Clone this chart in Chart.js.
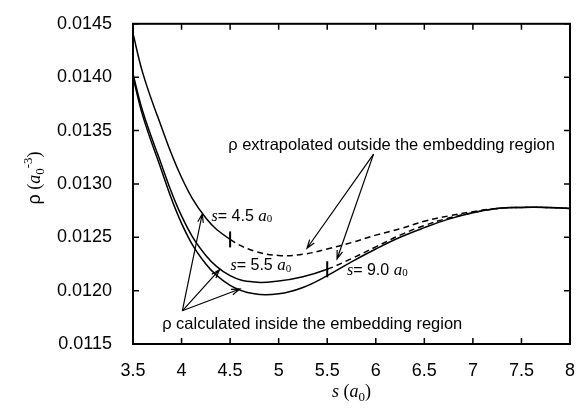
<!DOCTYPE html>
<html>
<head>
<meta charset="utf-8">
<script src="https://cdn.jsdelivr.net/npm/chart.js@4.4.0/dist/chart.umd.min.js"></script>
<style>
  body { margin: 0; background: #fff; }
  #wrap { width: 584px; height: 413px; }
</style>
</head>
<body>
<div id="wrap"><canvas id="chart-rho" width="584" height="413"></canvas></div>
<script>
// s (a0) sample points
const sGrid = [3.5, 3.6, 3.75, 4.0, 4.25, 4.5, 4.75, 5.0, 5.25, 5.5, 5.75, 6.0, 6.25, 6.5, 6.75, 7.0, 7.25, 7.5, 7.75, 8.0];
// rho for the three embedding radii
const rhoS45 = [0.01441, 0.01404, 0.01364, 0.01306, 0.01268, 0.01248, 0.01237, 0.01233, 0.01234, 0.01239, 0.01245, 0.01252, 0.01258, 0.01265, 0.01270, 0.01274, 0.01277, 0.01278, 0.01278, 0.01277];
const rhoS55 = [0.01403, 0.01368, 0.01329, 0.01270, 0.01233, 0.01214, 0.01208, 0.01209, 0.01213, 0.01220, 0.01230, 0.01241, 0.01252, 0.01261, 0.01268, 0.01273, 0.01277, 0.01278, 0.01278, 0.01277];
const rhoS90 = [0.01400, 0.01364, 0.01324, 0.01263, 0.01225, 0.01205, 0.01197, 0.01197, 0.01203, 0.01214, 0.01227, 0.01239, 0.01250, 0.01259, 0.01267, 0.01273, 0.01277, 0.01278, 0.01278, 0.01277];
const regionEnds = [4.5, 5.5, null];

const sTicks = [3.5, 4, 4.5, 5, 5.5, 6, 6.5, 7, 7.5, 8];
const rhoTicks = [0.0115, 0.0120, 0.0125, 0.0130, 0.0135, 0.0140, 0.0145];

function points(ys) {
    return sGrid.map((s, i) => ({ x: s, y: ys[i] }));
}
function dashAfter(limit) {
    return ctx => (limit !== null && ctx.p0.parsed.x >= limit - 1e-9) ? [6, 4] : undefined;
}
function curve(ys, limit) {
    return {
        data: points(ys),
        borderColor: '#000',
        borderWidth: 1.5,
        pointRadius: 0,
        tension: 0.4,
        segment: { borderDash: dashAfter(limit) }
    };
}

const SANS = '"Liberation Sans", Arial, sans-serif';
const SERIF = '"Liberation Serif", "Times New Roman", serif';

function runs(c, x, y, parts) {
    parts.forEach(p => {
        c.font = p.font;
        c.fillText(p.t, x, y + (p.dy || 0));
        x += c.measureText(p.t).width;
    });
}
function runsWidth(c, parts) {
    let w = 0;
    parts.forEach(p => { c.font = p.font; w += c.measureText(p.t).width; });
    return w;
}
function sLabel(value) {
    return [
        { t: 's', font: 'italic 16px ' + SERIF },
        { t: '= ' + value + ' ', font: '16px ' + SANS },
        { t: 'a', font: 'italic 17px ' + SERIF },
        { t: '0', font: '11px ' + SERIF, dy: 3 }
    ];
}
function arrow(c, x0, y0, x1, y1) {
    const ang = Math.atan2(y1 - y0, x1 - x0);
    c.beginPath();
    c.moveTo(x0, y0);
    c.lineTo(x1, y1);
    c.moveTo(x1 - 9 * Math.cos(ang - 0.32), y1 - 9 * Math.sin(ang - 0.32));
    c.lineTo(x1, y1);
    c.lineTo(x1 - 9 * Math.cos(ang + 0.32), y1 - 9 * Math.sin(ang + 0.32));
    c.stroke();
}

// annotation anchors in data units (s, rho)
const extrapText = [4.48, 0.01336];
const extrapFrom = [5.977, 0.013279];
const extrapTo = [[5.292, 0.012397], [5.601, 0.012297]];
const calcText = [3.80, 0.011685];
const calcFrom = [4.008, 0.011811];
const calcTo = [[4.213, 0.012718], [4.391, 0.012196], [4.600, 0.012015]];
const sLabels = [['4.5', 4.309, 0.012694], ['5.5', 4.504, 0.012234], ['9.0', 5.703, 0.012189]];

const overlay = {
    id: 'overlay',
    afterDraw(chart) {
        const c = chart.ctx, a = chart.chartArea;
        const sx = chart.scales.x, sy = chart.scales.y;
        const px = v => sx.getPixelForValue(v), py = v => sy.getPixelForValue(v);
        c.save();
        c.strokeStyle = '#000';
        c.fillStyle = '#000';

        /* frame + inward ticks */
        c.lineWidth = 2;
        c.strokeRect(a.left, a.top, a.right - a.left, a.bottom - a.top);
        c.lineWidth = 1.5;
        c.beginPath();
        sTicks.forEach(v => {
            const x = px(v);
            c.moveTo(x, a.bottom); c.lineTo(x, a.bottom - 6);
            c.moveTo(x, a.top); c.lineTo(x, a.top + 6);
        });
        rhoTicks.forEach(v => {
            const y = py(v);
            c.moveTo(a.left, y); c.lineTo(a.left + 6, y);
            c.moveTo(a.right, y); c.lineTo(a.right - 6, y);
        });
        c.stroke();

        /* region edge markers */
        c.lineWidth = 2;
        regionEnds.forEach((s, d) => {
            if (s === null) return;
            const pt = chart.getDatasetMeta(d).data[sGrid.indexOf(s)];
            c.beginPath();
            c.moveTo(pt.x, pt.y - 8);
            c.lineTo(pt.x, pt.y + 8);
            c.stroke();
        });

        /* arrows */
        c.lineWidth = 1.2;
        extrapTo.forEach(t => arrow(c, px(extrapFrom[0]), py(extrapFrom[1]), px(t[0]), py(t[1])));
        calcTo.forEach(t => arrow(c, px(calcFrom[0]), py(calcFrom[1]), px(t[0]), py(t[1])));

        /* texts */
        c.textBaseline = 'middle';
        c.textAlign = 'left';
        c.font = '16.5px ' + SANS;
        c.fillText('\u03c1 extrapolated outside the embedding region', px(extrapText[0]), py(extrapText[1]));
        c.fillText('\u03c1 calculated inside the embedding region', px(calcText[0]), py(calcText[1]));
        sLabels.forEach(l => runs(c, px(l[1]), py(l[2]), sLabel(l[0])));

        /* axis titles */
        c.textBaseline = 'alphabetic';
        const xTitle = [
            { t: 's', font: 'italic 18px ' + SERIF },
            { t: ' (', font: '18px ' + SERIF },
            { t: 'a', font: 'italic 18px ' + SERIF },
            { t: '0', font: '13px ' + SERIF, dy: 4 },
            { t: ')', font: '18px ' + SERIF }
        ];
        runs(c, (a.left + a.right) / 2 - runsWidth(c, xTitle) / 2, 397, xTitle);

        const yTitle = [
            { t: '\u03c1', font: '18px ' + SANS },
            { t: ' (', font: '18px ' + SERIF },
            { t: 'a', font: 'italic 18px ' + SERIF },
            { t: '0', font: '13px ' + SERIF, dy: 4 },
            { t: '-3', font: '13px ' + SERIF, dy: -8 },
            { t: ')', font: '18px ' + SERIF }
        ];
        c.translate(40, 178);
        c.rotate(-Math.PI / 2);
        runs(c, -runsWidth(c, yTitle) / 2, 0, yTitle);
        c.restore();
    }
};

new Chart(document.getElementById('chart-rho').getContext('2d'), {
    type: 'line',
    data: {
        datasets: [
            curve(rhoS45, regionEnds[0]),
            curve(rhoS55, regionEnds[1]),
            curve(rhoS90, regionEnds[2])
        ]
    },
    options: {
        responsive: false,
        animation: false,
        layout: { padding: { top: 11, right: 14, left: 0, bottom: 0 } },
        scales: {
            x: {
                type: 'linear',
                min: 3.5,
                max: 8,
                afterBuildTicks: scale => { scale.ticks = sTicks.map(v => ({ value: v })); },
                afterFit: scale => { scale.height = 69; },
                grid: { display: false },
                border: { display: false },
                ticks: {
                    color: '#000',
                    padding: 8,
                    maxRotation: 0,
                    font: { family: SANS, size: 18 },
                    callback: v => String(v)
                }
            },
            y: {
                type: 'linear',
                min: 0.0115,
                max: 0.0145,
                afterBuildTicks: scale => { scale.ticks = rhoTicks.map(v => ({ value: v })); },
                afterFit: scale => { scale.width = 133; },
                grid: { display: false },
                border: { display: false },
                ticks: {
                    color: '#000',
                    padding: 13,
                    font: { family: SANS, size: 18 },
                    callback: v => v.toFixed(4)
                }
            }
        },
        plugins: {
            legend: { display: false },
            tooltip: { enabled: false }
        }
    },
    plugins: [overlay]
});
</script>
</body>
</html>
